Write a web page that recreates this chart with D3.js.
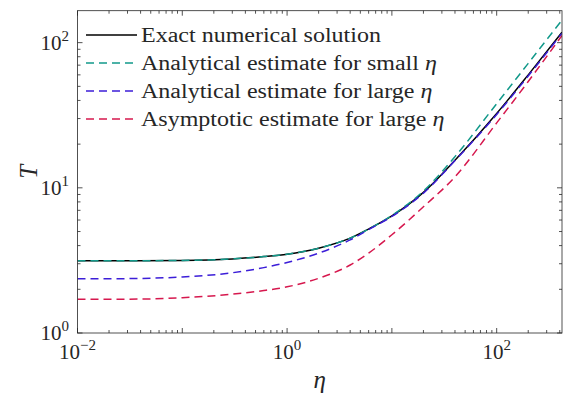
<!DOCTYPE html>
<html>
<head>
<meta charset="utf-8">
<script src="https://cdn.jsdelivr.net/npm/d3@7"></script>
<style>
  body { margin: 0; background: #fff; }
  text { font-family: "Liberation Serif", "Times New Roman", Times, "DejaVu Serif", serif; fill: #262626; }
</style>
</head>
<body>
<div id="chart"></div>
<script>
// values (log-log plot)
const eta = [0.01, 0.03, 0.1, 0.3, 0.6, 1, 2, 4, 6, 10, 20, 40, 100, 200, 420];
const exactT = [3.14, 3.145, 3.16, 3.24, 3.36, 3.49, 3.84, 4.5, 5.2, 6.4, 9.3, 15.5, 32.5, 60, 118];
const smallEtaT = [3.14, 3.145, 3.16, 3.24, 3.36, 3.49, 3.84, 4.5, 5.2, 6.45, 9.5, 16.4, 38, 72, 143];
const largeEtaT = [2.36, 2.37, 2.43, 2.6, 2.82, 3.06, 3.55, 4.38, 5.15, 6.35, 9.2, 15.4, 32, 59, 116];
const asymT = [1.71, 1.71, 1.75, 1.85, 1.96, 2.08, 2.38, 2.94, 3.55, 4.75, 7.4, 11.9, 28, 54, 112];

const seriesNames = [
  "Exact numerical solution",
  "Analytical estimate for small ",
  "Analytical estimate for large ",
  "Asymptotic estimate for large "
];
const seriesColors = ["#000000", "#12998a", "#3c1ed8", "#d6184e"];
const seriesValues = [exactT, smallEtaT, largeEtaT, asymT];

const xTickExp = [-2, 0, 2];
const yTickExp = [0, 1, 2];

const W = 566, H = 398;
const pL = 77.5, pR = 562, pT = 10.7, pB = 333;

const svg = d3.select("#chart").append("svg")
  .attr("width", W).attr("height", H);

const x = d3.scaleLog().domain([0.01, 420]).range([pL, pR]);
const y = d3.scaleLog().domain([1, 166]).range([pB, pT]);

svg.append("defs").append("clipPath").attr("id", "plotclip")
  .append("rect").attr("x", pL).attr("y", pT)
  .attr("width", pR - pL).attr("height", pB - pT);

// curves
const line = d3.line()
  .x(d => x(d[0]))
  .y(d => y(d[1]))
  .curve(d3.curveMonotoneX);

const plot = svg.append("g").attr("clip-path", "url(#plotclip)");
seriesValues.forEach((vals, i) => {
  plot.append("path")
    .datum(eta.map((e, j) => [e, vals[j]]))
    .attr("fill", "none")
    .attr("stroke", seriesColors[i])
    .attr("stroke-width", 1.5)
    .attr("stroke-dasharray", i === 0 ? null : "8,5")
    .attr("d", line);
});

// minor/major ticks, all four sides pointing in
function logTicks(lo, hi) {
  const out = [];
  for (let k = Math.floor(Math.log10(lo)); k <= Math.ceil(Math.log10(hi)); k++) {
    for (let m = 1; m <= 9; m++) {
      const v = m * Math.pow(10, k);
      if (v >= lo * 0.999 && v <= hi * 1.001) out.push({ v: v, major: m === 1 });
    }
  }
  return out;
}

const axes = svg.append("g").attr("stroke", "#262626").attr("stroke-width", 0.8);
logTicks(0.01, 420).forEach(t => {
  const len = t.major ? 5 : 3;
  const px = x(t.v);
  axes.append("line").attr("x1", px).attr("x2", px).attr("y1", pB).attr("y2", pB - len);
  axes.append("line").attr("x1", px).attr("x2", px).attr("y1", pT).attr("y2", pT + len);
});
logTicks(1, 166).forEach(t => {
  const len = t.major ? 5 : 3;
  const py = y(t.v);
  axes.append("line").attr("y1", py).attr("y2", py).attr("x1", pL).attr("x2", pL + len);
  axes.append("line").attr("y1", py).attr("y2", py).attr("x1", pR).attr("x2", pR - len);
});
axes.append("rect")
  .attr("x", pL).attr("y", pT)
  .attr("width", pR - pL).attr("height", pB - pT)
  .attr("fill", "none");

// tick labels
xTickExp.forEach(k => {
  const t = svg.append("text")
    .attr("x", x(Math.pow(10, k)))
    .attr("y", 359)
    .attr("text-anchor", "middle")
    .style("font-size", "21px");
  t.append("tspan").text("10");
  t.append("tspan").attr("dy", -9).style("font-size", "15px")
    .text(k < 0 ? "\u2212" + (-k) : String(k));
});
yTickExp.forEach(k => {
  const t = svg.append("text")
    .attr("x", 69)
    .attr("y", y(Math.pow(10, k)) + 7)
    .attr("text-anchor", "end")
    .style("font-size", "21px");
  t.append("tspan").text("10");
  t.append("tspan").attr("dy", -9).style("font-size", "15px").text(String(k));
});

// axis labels
svg.append("text")
  .attr("x", (pL + pR) / 2)
  .attr("y", 388)
  .attr("text-anchor", "middle")
  .style("font-size", "25px")
  .style("font-style", "italic")
  .text("\u03b7");

svg.append("text")
  .attr("transform", `translate(37,${(pT + pB) / 2}) rotate(-90)`)
  .attr("text-anchor", "middle")
  .style("font-size", "25px")
  .style("font-style", "italic")
  .text("T");

// legend (no box)
const legendRows = [35, 63, 91, 119];
seriesNames.forEach((name, i) => {
  const ly = legendRows[i];
  svg.append("line")
    .attr("x1", 86).attr("x2", 137)
    .attr("y1", ly).attr("y2", ly)
    .attr("stroke", seriesColors[i])
    .attr("stroke-width", 1.5)
    .attr("stroke-dasharray", i === 0 ? null : "8,5");
  const t = svg.append("text")
    .attr("x", 141)
    .attr("y", ly + 6.5)
    .style("font-size", "20px");
  t.append("tspan").text(name);
  if (i > 0) t.append("tspan").style("font-style", "italic").text("\u03b7");
  const w = t.node().getComputedTextLength();
  t.attr("textLength", w * 1.2).attr("lengthAdjust", "spacingAndGlyphs");
});
</script>
</body>
</html>
